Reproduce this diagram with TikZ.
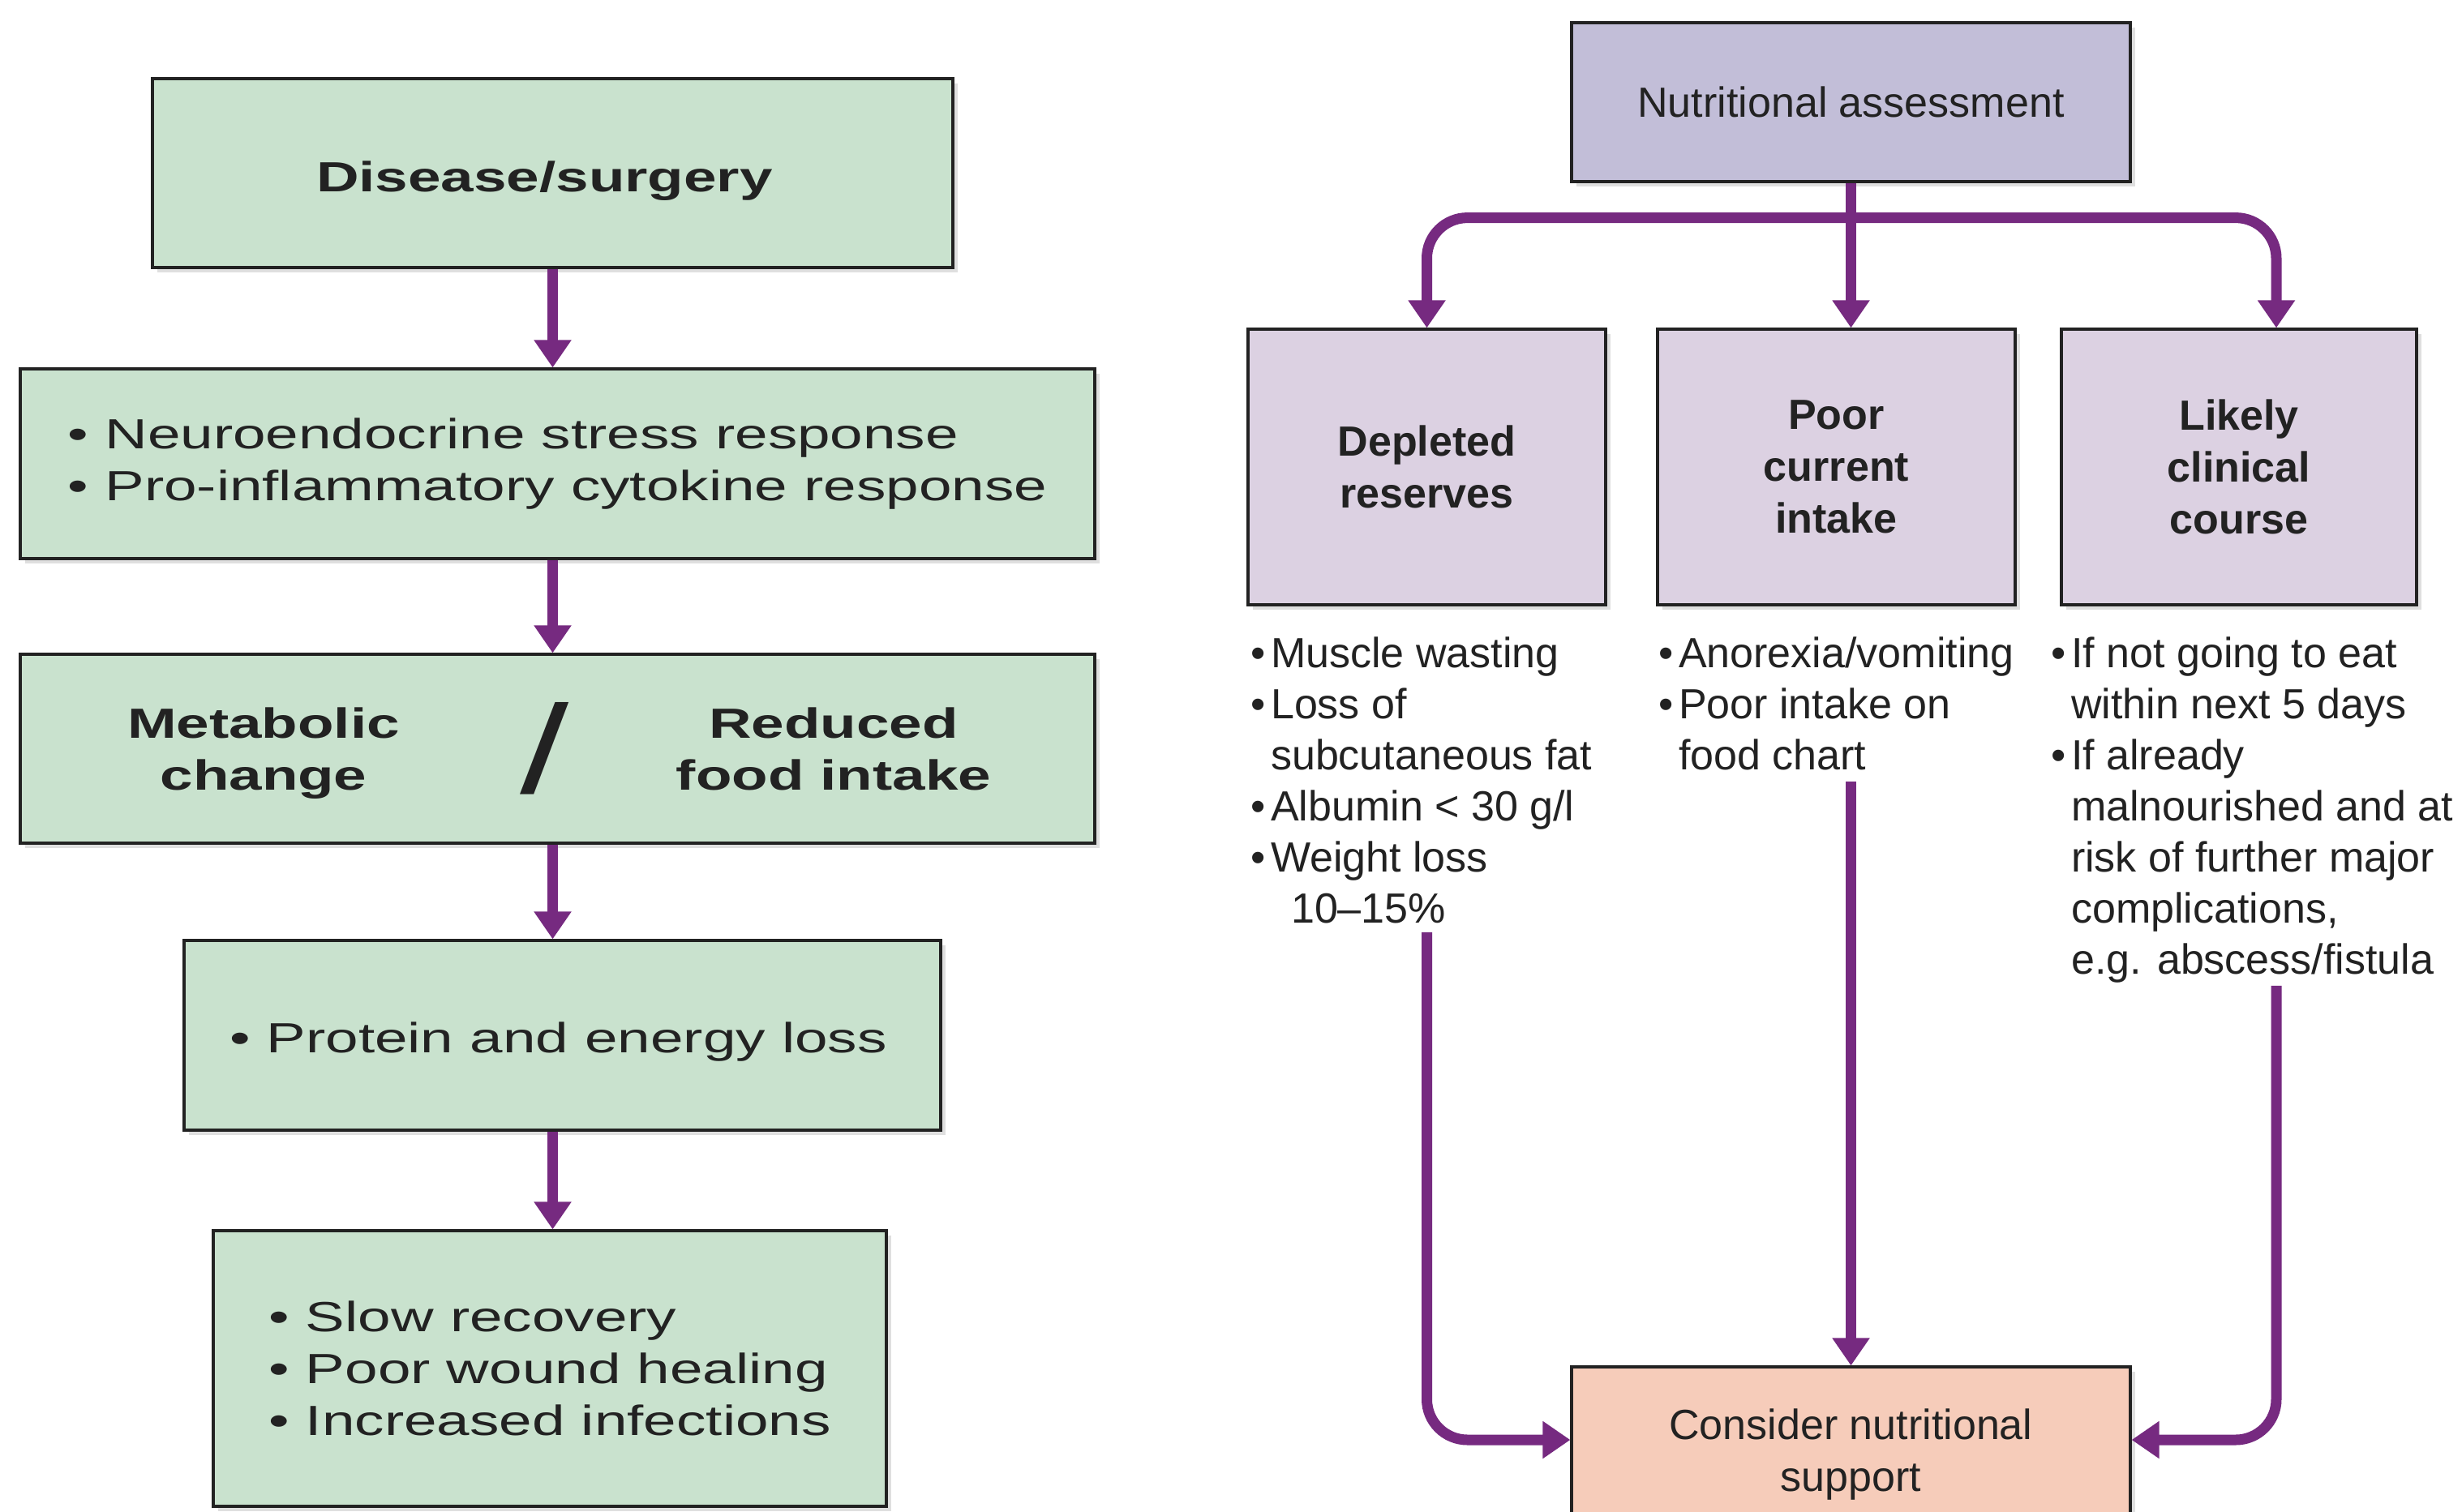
\documentclass[tikz,border=0pt]{standalone}
\usepackage{fontspec}
\setmainfont{Liberation Sans}
\newfontfamily\widefont[FakeStretch=1.4]{Liberation Sans}
\usetikzlibrary{positioning,calc,arrows.meta,shadows}
\definecolor{mint}{RGB}{201,226,206}
\definecolor{lilac}{RGB}{194,190,216}
\definecolor{mauve}{RGB}{220,209,226}
\definecolor{peach}{RGB}{246,204,186}
\definecolor{plum}{RGB}{118,42,128}
\definecolor{ink}{RGB}{34,34,34}
\newcommand{\bul}{•\hspace{0.13em}}
\newcommand{\listpad}{\phantom{\bul}}

\begin{document}
\begin{tikzpicture}[
  box/.style={draw=ink, line width=0.9pt, inner sep=0pt, text=ink,
    drop shadow={shadow xshift=0.06cm, shadow yshift=-0.06cm, opacity=0.25}},
  greenbox/.style={box, fill=mint, align=left,
    font=\widefont\fontsize{14.8}{18.2}\selectfont},
  topbox/.style={box, fill=lilac, minimum width=6.89cm, minimum height=1.96cm,
    font=\fontsize{14.8}{18.2}\selectfont},
  sidebox/.style={box, fill=mauve, minimum width=4.41cm, minimum height=3.4cm,
    align=center, font=\bfseries\fontsize{14.8}{18.2}\selectfont},
  endbox/.style={box, fill=peach, minimum width=6.89cm, minimum height=2.16cm,
    align=center, font=\fontsize{14.8}{18.2}\selectfont},
  listtext/.style={inner sep=0pt, align=left, text=ink,
    font=\fontsize{14.8}{17.9}\selectfont},
  plain/.style={inner sep=0pt, align=center, text=ink,
    font=\widefont\bfseries\fontsize{14.8}{18.2}\selectfont},
  arr/.style={-{Triangle[length=0.34cm,width=0.44cm]}, draw=plum, line width=0.13cm}
]
\path[use as bounding box, fill=white] (0,0) rectangle (30.36,-18.64);

\node[greenbox, minimum width=9.87cm, minimum height=2.33cm] (dis) at (6.815,-2.135) {};
\node[plain] (distext) at ($(dis.center)+(-0.1,-0.1)$) {Disease/surgery};
\node[greenbox, minimum width=13.25cm, minimum height=2.34cm] (resp) at (6.875,-5.72)
  {• Neuroendocrine stress response\\• Pro-inflammatory cytokine response};
\node[greenbox, minimum width=13.25cm, minimum height=2.33cm] (meta) at (6.875,-9.235) {};
\node[plain] (metal) at ($(meta.center)+(-3.625,-0.1)$) {Metabolic\\change\strut};
\node[plain, font=\widefont\fontsize{44}{44}\selectfont] (slash) at ($(meta.center)+(-0.155,0)$) {/};
\node[plain] (metar) at ($(meta.center)+(3.405,-0.1)$) {Reduced\\food intake\strut};
\node[greenbox, minimum width=9.33cm, minimum height=2.34cm] (loss) at (6.935,-12.77) {};
\node[plain, font=\widefont\fontsize{14.8}{18.2}\selectfont] (losstext) at ($(loss.center)+(-0.05,-0.08)$)
  {• Protein and energy loss};
\node[greenbox, minimum width=8.3cm, minimum height=3.4cm] (outc) at (6.78,-16.88)
  {• Slow recovery\\• Poor wound healing\\• Increased infections};

\draw[arr] (dis.south) -- (dis.south |- resp.north);
\draw[arr] (dis.south |- resp.south) -- (dis.south |- meta.north);
\draw[arr] (dis.south |- meta.south) -- (dis.south |- loss.north);
\draw[arr] (dis.south |- loss.south) -- (dis.south |- outc.north);

\node[topbox] (na) at (22.825,-1.26) {Nutritional assessment};
\node[sidebox] (dep) at (17.595,-5.76) {Depleted\\reserves};
\node[sidebox] (poor) at (22.645,-5.76) {Poor\\current\\intake};
\node[sidebox, minimum width=4.38cm] (likely) at (27.61,-5.76) {Likely\\clinical\\course};
\node[endbox] (cns) at (22.825,-17.94) {Consider nutritional\\support};

\node[listtext, below right=0.38cm and 0.04cm of dep.south west] (deplist)
  {\bul Muscle wasting\\\bul Loss of\\\listpad subcutaneous fat\\\bul Albumin < 30 g/l\\\bul Weight loss\\\listpad\hspace{0.25cm}10–15\%};
\node[listtext, below right=0.38cm and 0.02cm of poor.south west] (poorlist)
  {\bul Anorexia/vomiting\\\bul Poor intake on\\\listpad food chart};
\node[listtext, below right=0.38cm and -0.12cm of likely.south west] (likelylist)
  {\bul If not going to eat\\\listpad within next 5 days\\\bul If already\\\listpad malnourished and at\\\listpad risk of further major\\\listpad complications,\\\listpad e.g. abscess/fistula};

\coordinate (fork) at ($(na.south)+(0,-0.43)$);
\coordinate (lk) at ($(likely.north)+(0.46,0)$);
\draw[arr] (na.south) -- (na.south |- poor.north);
\draw[arr, rounded corners=0.5cm] (fork) -| (dep.north);
\draw[arr, rounded corners=0.5cm] (fork) -| (lk);

\draw[arr, rounded corners=0.5cm, shorten <=0.1cm] (deplist.south -| dep.south) |- ($(cns.west)+(0,0.18)$);
\draw[arr, shorten <=0.13cm] (poorlist.south -| na.south) -- (cns.north);
\draw[arr, rounded corners=0.5cm, shorten <=0.03cm] (likelylist.south -| lk) |- ($(cns.east)+(0,0.18)$);
\end{tikzpicture}
\end{document}
